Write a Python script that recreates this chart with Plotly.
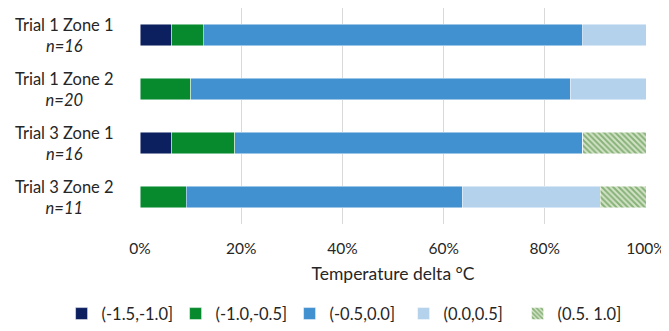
import plotly.graph_objects as go

categories = ["Trial 1 Zone 1", "Trial 1 Zone 2", "Trial 3 Zone 1", "Trial 3 Zone 2"]
n_labels = ["n=16", "n=20", "n=16", "n=11"]
series_names = ["(-1.5,-1.0]", "(-1.0,-0.5]", "(-0.5,0.0]", "(0.0,0.5]", "(0.5. 1.0]"]
v_m15 = [6.25, 0, 6.25, 0]
v_m10 = [6.25, 10, 12.5, 9.09]
v_m05 = [75, 75, 68.75, 54.55]
v_00 = [12.5, 15, 0, 27.27]
v_05 = [0, 0, 12.5, 9.09]
tick_vals = [0, 20, 40, 60, 80, 100]
tick_text = ["0%", "20%", "40%", "60%", "80%", "100%"]

colors = ["#0c1f5e", "#078a2e", "#4190d0", "#b5d2ec", "#3d7f2c"]
values = [v_m15, v_m10, v_m05, v_00, v_05]

FONT = "Lato"
TXT = "#262626"

fig = go.Figure()
for i, (name, vals) in enumerate(zip(series_names, values)):
    marker = dict(color=colors[i], line=dict(color="rgba(255,255,255,0.6)", width=0.8))
    if i == 4:
        marker = dict(color="#cfe0c2",
                      pattern=dict(shape="\\", fgcolor="#3d7f2c", bgcolor="#d2e3c6",
                                   size=4, solidity=0.5),
                      line=dict(color="rgba(255,255,255,0.6)", width=0.8))
    fig.add_trace(go.Bar(y=categories, x=vals, name=name, orientation="h",
                         marker=marker))

for cat, n in zip(categories, n_labels):
    fig.add_annotation(x=-0.150, y=cat, xref="paper", yref="y",
                       text=f"{cat}<br><i>{n}</i>", showarrow=False,
                       align="center", xanchor="center", yanchor="middle",
                       font=dict(size=16.5, color=TXT, family=FONT))

fig.update_layout(
    barmode="stack", bargap=0.61,
    width=661, height=315,
    margin=dict(l=132, r=23, t=0, b=99, autoexpand=False),
    plot_bgcolor="white", paper_bgcolor="white",
    font=dict(family=FONT, size=16, color=TXT),
    xaxis=dict(range=[0, 100], tickvals=tick_vals, ticktext=tick_text,
               showgrid=True, gridcolor="#d9d9d9", gridwidth=1, zeroline=False,
               title=dict(text="Temperature delta °C", standoff=12,
                          font=dict(size=17.5)),
               ticks="", tickfont=dict(size=15.5), ticklabelstandoff=13,
               automargin=False),
    yaxis=dict(autorange="reversed", showticklabels=False, showgrid=False,
               zeroline=False, showline=False, automargin=False),
    legend=dict(orientation="h", x=-0.155, xanchor="left", y=-0.335, yanchor="top",
                font=dict(size=16.5), traceorder="normal", itemwidth=30,
                entrywidth=69, entrywidthmode="pixels"),
    showlegend=True,
)

fig.write_html("out.html")
